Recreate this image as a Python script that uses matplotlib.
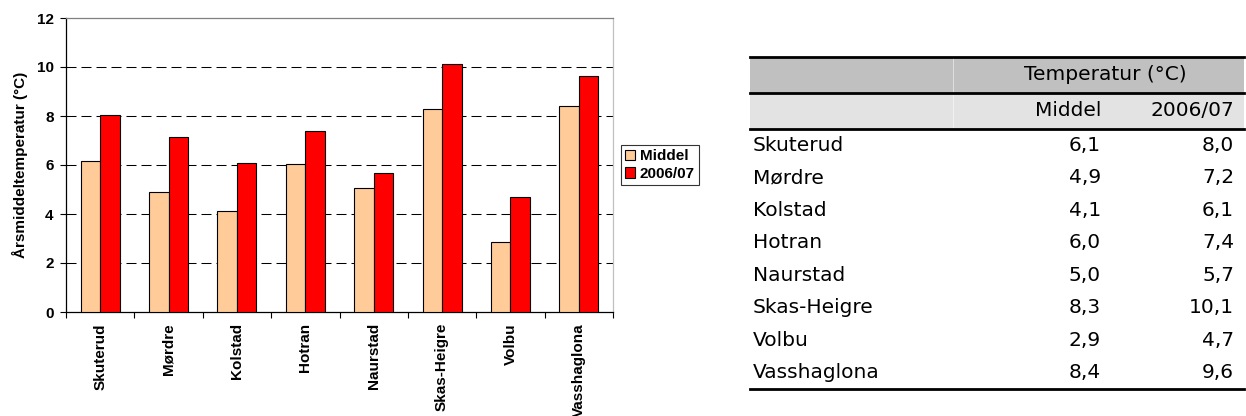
import matplotlib.pyplot as plt
import numpy as np
from matplotlib.patches import Rectangle

stations = ["Skuterud", "Mørdre", "Kolstad", "Hotran", "Naurstad",
            "Skas-Heigre", "Volbu", "Vasshaglona"]
middel = [6.15, 4.9, 4.12, 6.03, 5.05, 8.3, 2.87, 8.42]
aar_0607 = [8.05, 7.16, 6.1, 7.38, 5.67, 10.13, 4.7, 9.65]

# values as printed in the table
tab_middel = [6.1, 4.9, 4.1, 6.0, 5.0, 8.3, 2.9, 8.4]
tab_0607 = [8.0, 7.2, 6.1, 7.4, 5.7, 10.1, 4.7, 9.6]

W, H = 1246, 416
fig = plt.figure(figsize=(W / 100, H / 100), dpi=100)
cf = "Liberation Sans"
cs = 11

# ---- bar chart ----
ax = fig.add_axes([66 / W, 1 - 312 / H, (613 - 66) / W, (312 - 18) / H])
x = np.arange(len(stations))
bw = 0.285
ax.bar(x - bw / 2, middel, bw, color="#FFCC99", edgecolor="black",
       linewidth=0.8, label="Middel", zorder=3)
ax.bar(x + bw / 2, aar_0607, bw, color="#FF0000", edgecolor="black",
       linewidth=0.8, label="2006/07", zorder=3)

ax.set_xlim(-0.5, len(stations) - 0.5)
ax.set_ylim(0, 12)
ax.set_yticks(range(0, 13, 2))
for y in range(2, 12, 2):
    ax.axhline(y, color="black", linestyle=(0, (9.6, 4.8)), linewidth=0.75,
               zorder=1)

ax.set_xticks(x)
ax.set_xticklabels(stations, rotation=90, fontweight="bold", fontsize=cs,
                   family=cf)
ax.tick_params(axis="x", which="major", length=0, pad=8)
ax.set_xticks(np.arange(-0.5, len(stations), 1), minor=True)
ax.tick_params(axis="x", which="minor", length=4, width=0.8)
ax.tick_params(axis="y", length=4, width=0.8, labelsize=cs, pad=5)
for lab in ax.get_yticklabels():
    lab.set_fontweight("bold")
    lab.set_family(cf)

ax.spines["left"].set_color("black")
ax.spines["bottom"].set_color("black")
ax.spines["top"].set_color("#808080")
ax.spines["right"].set_color("#c0c0c0")
for s in ax.spines.values():
    s.set_linewidth(0.9)

ax.set_ylabel("Årsmiddeltemperatur (°C)", fontsize=cs, fontweight="bold",
              family=cf, labelpad=6)

leg = ax.legend(loc="center left", bbox_to_anchor=(1.014, 0.5), fancybox=False,
                edgecolor="black", handlelength=0.65, handleheight=0.65,
                handletextpad=0.3, borderpad=0.3, labelspacing=0.25,
                borderaxespad=0, prop={"family": cf, "weight": "bold", "size": cs})
leg.get_frame().set_linewidth(0.8)

# ---- table ----
tx = fig.add_axes([0, 0, 1, 1])
tx.set_xlim(0, W)
tx.set_ylim(H, 0)
tx.axis("off")

left, right = 750, 1244
top, h1, h2 = 57, 36, 36
row_h = 32.5
c1_right, c2_right = 1101, 1234
fs = 14.5
tf = "DejaVu Sans"

tx.add_patch(Rectangle((left, top), right - left, h1, color="#C0C0C0", lw=0))
tx.add_patch(Rectangle((left, top + h1), right - left, h2, color="#E3E3E3", lw=0))
tx.plot([953, 953], [top, top + h1 + h2], color="white", lw=0.6, alpha=0.6)
for yl in (top, top + h1, top + h1 + h2):
    tx.plot([left, right], [yl, yl], color="black", lw=2)

tx.text(1105, top + h1 / 2, "Temperatur (°C)", ha="center", va="center",
        fontsize=fs, family=tf)
tx.text(c1_right, top + h1 + h2 / 2, "Middel", ha="right", va="center",
        fontsize=fs, family=tf)
tx.text(c2_right, top + h1 + h2 / 2, "2006/07", ha="right", va="center",
        fontsize=fs, family=tf)

y0 = top + h1 + h2
for i, name in enumerate(stations):
    yc = y0 + row_h * (i + 0.5)
    tx.text(left + 3, yc, name, ha="left", va="center", fontsize=fs, family=tf)
    tx.text(c1_right, yc, f"{tab_middel[i]:.1f}".replace(".", ","),
            ha="right", va="center", fontsize=fs, family=tf)
    tx.text(c2_right, yc, f"{tab_0607[i]:.1f}".replace(".", ","),
            ha="right", va="center", fontsize=fs, family=tf)
y_end = y0 + row_h * len(stations)
tx.plot([left, right], [y_end, y_end], color="black", lw=2)

fig.savefig("out.png", dpi=100)
